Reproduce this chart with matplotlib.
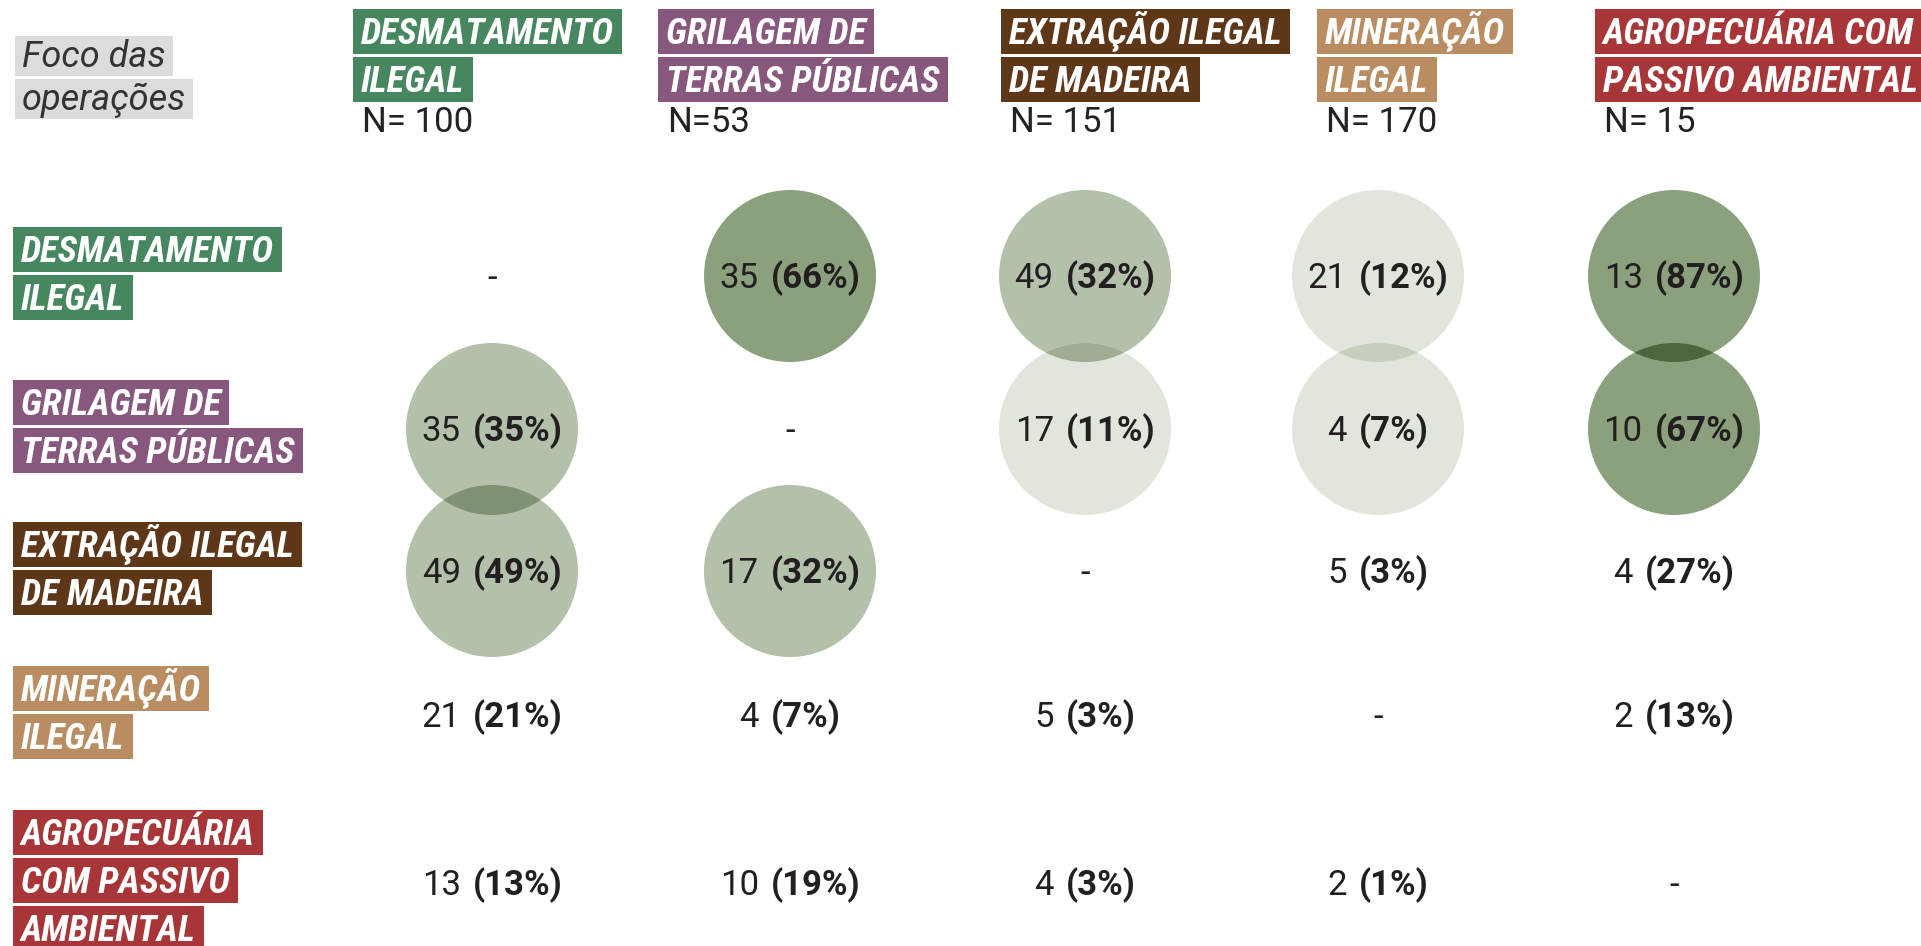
import matplotlib
matplotlib.use("Agg")
import matplotlib.pyplot as plt
from matplotlib import font_manager as fm
from matplotlib.patches import Circle, Rectangle

# ---- data ----
col_labels = [["DESMATAMENTO", "ILEGAL"],
              ["GRILAGEM DE", "TERRAS PÚBLICAS"],
              ["EXTRAÇÃO ILEGAL", "DE MADEIRA"],
              ["MINERAÇÃO", "ILEGAL"],
              ["AGROPECUÁRIA COM", "PASSIVO AMBIENTAL"]]
row_labels = [["DESMATAMENTO", "ILEGAL"],
              ["GRILAGEM DE", "TERRAS PÚBLICAS"],
              ["EXTRAÇÃO ILEGAL", "DE MADEIRA"],
              ["MINERAÇÃO", "ILEGAL"],
              ["AGROPECUÁRIA", "COM PASSIVO", "AMBIENTAL"]]
n_labels = ["N= 100", "N=53", "N= 151", "N= 170", "N= 15"]
cat_colors = ["#46875f", "#87577e", "#5e3718", "#b98c62", "#a83638"]

# rows = row category, columns = column category (None = same category)
counts = [[None, 35, 49, 21, 13],
          [35, None, 17, 4, 10],
          [49, 17, None, 5, 4],
          [21, 4, 5, None, 2],
          [13, 10, 4, 2, None]]
pcts = [[None, 66, 32, 12, 87],
        [35, None, 11, 7, 67],
        [49, 32, None, 3, 27],
        [21, 7, 3, None, 13],
        [13, 19, 3, 1, None]]

# ---- layout ----
W, H = 1921, 946
col_x = [492, 790, 1085, 1378, 1674]
row_y = [276, 429, 571, 715, 883]
head_x = [353, 658, 1001, 1317, 1595]
radius = 86

available = {f.name for f in fm.fontManager.ttflist}


def pick(prefs):
    return [next(f for f in prefs + ["DejaVu Sans"] if f in available), "DejaVu Sans"]


COND = pick(["Roboto Condensed", "Fira Sans Condensed", "Liberation Sans Narrow"])
PLAIN = pick(["Roboto", "Liberation Sans"])

fig = plt.figure(figsize=(W / 100, H / 100), dpi=100)
ax = fig.add_axes([0, 0, 1, 1])
ax.set_xlim(0, W)
ax.set_ylim(H, 0)
ax.axis("off")
renderer = fig.canvas.get_renderer()


def text_w(t):
    return t.get_window_extent(renderer=renderer).width


def label_block(x, top, lines, color, size=26.5, step=48, hgt=45, base=35, pad=8,
                tcolor="white", style="italic", weight="bold", family=COND):
    for i, line in enumerate(lines):
        y0 = top + i * step
        t = ax.text(x + pad, y0 + base, line, color=tcolor, fontsize=size,
                    family=family, style=style, fontweight=weight,
                    va="baseline", ha="left", zorder=4)
        ax.add_patch(Rectangle((x, y0), text_w(t) + 2 * pad, hgt,
                               fc=color, ec="none", zorder=3))


def shade(p):
    if p >= 60:
        return (139, 161, 125)
    if p >= 20:
        return (179, 192, 170)
    return (225, 230, 220)


# "Foco das operações"
label_block(15, 36, ["Foco das", "operações"], "#dcdcdc", size=26, step=43,
            hgt=40, base=31, pad=7, tcolor="#333333", weight="normal", family=PLAIN)

# column headers
for j, lines in enumerate(col_labels):
    label_block(head_x[j], 9, lines, cat_colors[j])
    ax.text(head_x[j] + 9, 132, n_labels[j], fontsize=25, family=PLAIN,
            fontweight="normal", color="#222222", va="baseline", zorder=4)

# row labels
for i, lines in enumerate(row_labels):
    block = len(lines) * 48 - 3
    label_block(13, row_y[i] - block / 2 - 3, lines, cat_colors[i])

# circles: the two largest shares in each column
circles = {}
for j in range(len(col_x)):
    vals = [(pcts[i][j], i) for i in range(len(row_y)) if pcts[i][j] is not None]
    for p, i in sorted(vals, reverse=True)[:2]:
        rgb = shade(p)
        c = Circle((col_x[j], row_y[i]), radius, fc=[v / 255 for v in rgb],
                   ec="none", zorder=1)
        ax.add_patch(c)
        circles[(i, j)] = (c, rgb)

# overlaps drawn as multiplied colour
for (i, j), (c, rgb) in circles.items():
    if (i + 1, j) in circles:
        c2, rgb2 = circles[(i + 1, j)]
        mix = [a * b / 255 / 255 for a, b in zip(rgb, rgb2)]
        lens = Circle((col_x[j], row_y[i]), radius, fc=mix, ec="none", zorder=2)
        ax.add_patch(lens)
        lens.set_clip_path(c2)

# cell values
gap = 12
for i in range(len(row_y)):
    for j in range(len(col_x)):
        yb = row_y[i] + 12
        if counts[i][j] is None:
            ax.text(col_x[j], yb, "-", fontsize=25, family=PLAIN, fontweight="normal",
                    color="#222222", ha="center", va="baseline", zorder=5)
            continue
        t1 = ax.text(0, yb, str(counts[i][j]), fontsize=25, family=PLAIN,
                     fontweight="normal", color="#231f20", va="baseline", zorder=5)
        t2 = ax.text(0, yb, f"({pcts[i][j]}%)", fontsize=25, family=PLAIN,
                     fontweight="bold", color="#231f20", va="baseline", zorder=5)
        w1, w2 = text_w(t1), text_w(t2)
        x0 = col_x[j] - (w1 + gap + w2) / 2
        t1.set_x(x0)
        t2.set_x(x0 + w1 + gap)

fig.savefig("out.png", dpi=100)
